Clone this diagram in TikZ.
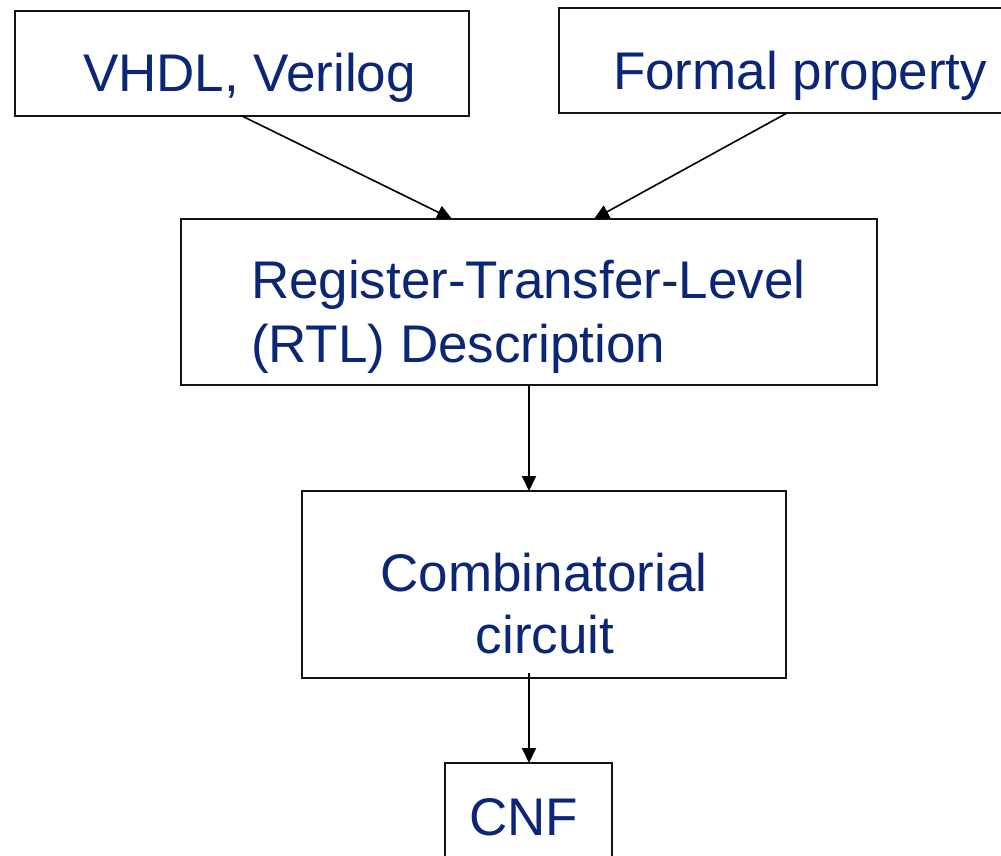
\documentclass[tikz,border=0pt]{standalone}
\usepackage{fontspec}
\setmainfont{Liberation Sans}
\usetikzlibrary{arrows.meta}
\definecolor{navytext}{RGB}{12,38,118}
\tikzset{
  stagebox/.style={draw=black!92, line width=2.8pt, inner sep=0pt, outer sep=0pt, fill=white},
  label/.style={text=navytext, font=\fontsize{53}{62}\selectfont, inner sep=0pt, outer sep=0pt},
  flow/.style={draw=black, line width=2pt, -{Triangle[length=15pt,width=14pt]}}
}
\begin{document}
\begin{tikzpicture}[x=1pt,y=-1pt]
  \useasboundingbox (0,0) rectangle (1001,856);

  % boxes
  \node[stagebox, minimum width=454pt, minimum height=105pt] (vhdl) at (242,63.5) {};
  \node[stagebox, minimum width=456pt, minimum height=105pt] (formal) at (787,60.5) {};
  \node[stagebox, minimum width=696pt, minimum height=166pt] (rtl) at (529,302) {};
  \node[stagebox, minimum width=484pt, minimum height=187pt] (comb) at (544,584.5) {};
  \node[stagebox, minimum width=167pt, minimum height=105pt] (cnf) at (528.5,815.5) {};

  % texts
  \node[label, anchor=base west] (vhdltext) at (83,92) {VHDL, Verilog};
  \node[label, anchor=base west] (formaltext) at (613,90) {Formal property};
  \node[label, anchor=base west] (rtltexta) at (251,298) {Register-Transfer-Level};
  \node[label, anchor=base west] (rtltextb) at (251,362) {(RTL) Description};
  \node[label, anchor=base] (combtexta) at (544,591) {Combinatorial};
  \node[label, anchor=base] (combtextb) at (545,653) {circuit};
  \node[label, anchor=base west] (cnftext) at (469,835) {CNF};

  % entry points on the RTL box
  \coordinate (rtlinleft) at (452,219);
  \coordinate (rtlinright) at (594,219);
  \coordinate (combout) at (529,673);

  % connectors
  \draw[flow, line width=1.6pt] (vhdl.south) -- (rtlinleft);
  \draw[flow, line width=1.6pt] (formal.south) -- (rtlinright);
  \draw[flow] (rtl.south) -- (rtl.south |- comb.north);
  \draw[flow] (combout) -- (combout |- cnf.north);
\end{tikzpicture}
\end{document}
